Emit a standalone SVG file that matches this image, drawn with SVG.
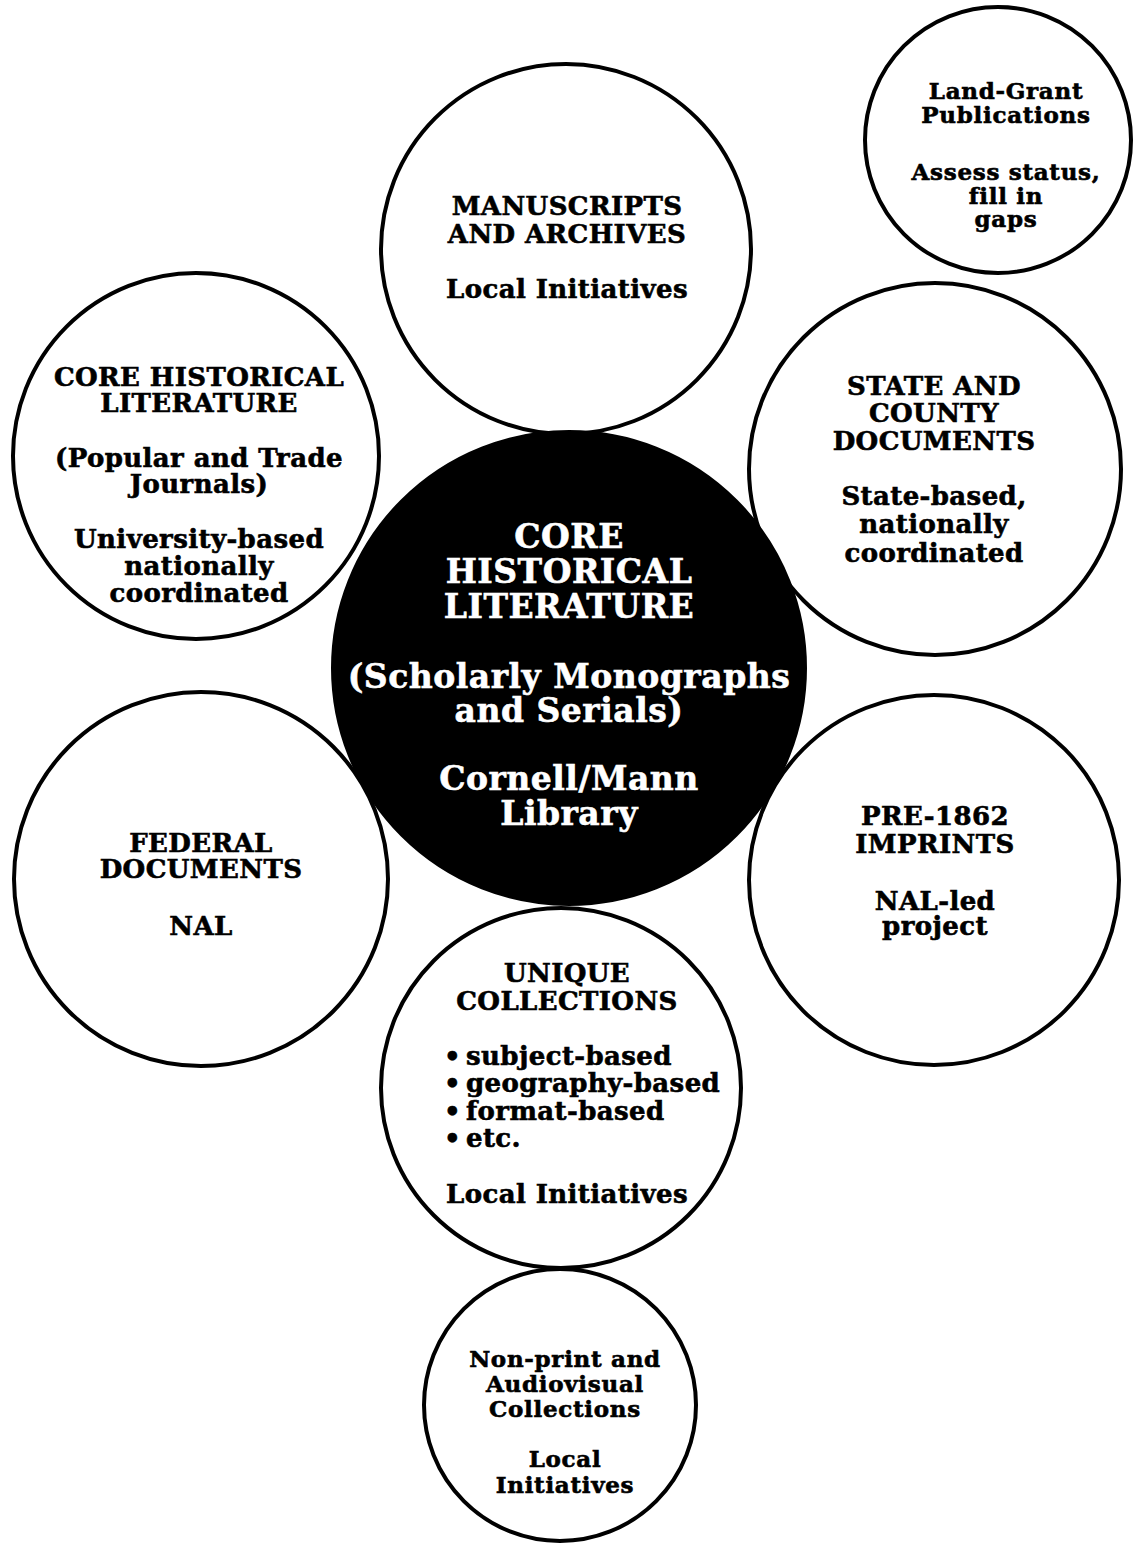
<svg xmlns="http://www.w3.org/2000/svg" width="1133" height="1543" viewBox="0 0 1133 1543">
  <style>
    .ring { fill: #fff; stroke: #000; stroke-width: 4; }
    .hub { fill: #000; stroke: #000; stroke-width: 4; }
    text { font-family: "DejaVu Serif", "Liberation Serif", serif; font-weight: bold; fill: #000; stroke: #000; stroke-width: 0.6; text-anchor: middle; }
    .t { font-size: 26px; letter-spacing: 0.4px; }
    .s { font-size: 23px; letter-spacing: 0.7px; }
    .c { font-size: 33px; letter-spacing: 0.5px; fill: #fff; stroke: #fff; }
    .l { text-anchor: start; }
  </style>
  <rect width="1133" height="1543" fill="#fff"/>

  <!-- the diagram has no connectors: circles touch one another directly -->
  <g id="connectors"/>

  <g id="land-grant">
    <circle class="ring" cx="998" cy="140" r="133"/>
    <text class="s" x="1006" y="99">Land-Grant</text>
    <text class="s" x="1006" y="123">Publications</text>
    <text class="s" x="1006" y="180">Assess status,</text>
    <text class="s" x="1006" y="204">fill in</text>
    <text class="s" x="1006" y="227">gaps</text>
  </g>

  <g id="manuscripts">
    <circle class="ring" cx="566" cy="249" r="185"/>
    <text class="t" x="567" y="215">MANUSCRIPTS</text>
    <text class="t" x="567" y="243">AND ARCHIVES</text>
    <text class="t" x="567" y="298">Local Initiatives</text>
  </g>

  <g id="core-popular">
    <circle class="ring" cx="196" cy="456" r="183"/>
    <text class="t" x="199" y="386">CORE HISTORICAL</text>
    <text class="t" x="199" y="412">LITERATURE</text>
    <text class="t" x="199" y="467">(Popular and Trade</text>
    <text class="t" x="199" y="493">Journals)</text>
    <text class="t" x="199" y="548">University-based</text>
    <text class="t" x="199" y="575">nationally</text>
    <text class="t" x="199" y="602">coordinated</text>
  </g>

  <g id="state-county">
    <circle class="ring" cx="935" cy="469" r="186"/>
    <text class="t" x="934" y="395">STATE AND</text>
    <text class="t" x="934" y="422">COUNTY</text>
    <text class="t" x="934" y="450">DOCUMENTS</text>
    <text class="t" x="934" y="505">State-based,</text>
    <text class="t" x="934" y="533">nationally</text>
    <text class="t" x="934" y="562">coordinated</text>
  </g>

  <g id="federal">
    <circle class="ring" cx="201" cy="879" r="187"/>
    <text class="t" x="201" y="852">FEDERAL</text>
    <text class="t" x="201" y="878">DOCUMENTS</text>
    <text class="t" x="201" y="935">NAL</text>
  </g>

  <g id="pre-1862">
    <circle class="ring" cx="934" cy="880" r="185"/>
    <text class="t" x="935" y="825">PRE-1862</text>
    <text class="t" x="935" y="853">IMPRINTS</text>
    <text class="t" x="935" y="910">NAL-led</text>
    <text class="t" x="935" y="935">project</text>
  </g>

  <g id="unique">
    <circle class="ring" cx="561" cy="1088" r="180"/>
    <text class="t" x="567" y="982">UNIQUE</text>
    <text class="t" x="567" y="1010">COLLECTIONS</text>
    <text class="t l" x="444" y="1065">•</text>
    <text class="t l" x="466" y="1065">subject-based</text>
    <text class="t l" x="444" y="1092">•</text>
    <text class="t l" x="466" y="1092">geography-based</text>
    <text class="t l" x="444" y="1120">•</text>
    <text class="t l" x="466" y="1120">format-based</text>
    <text class="t l" x="444" y="1147">•</text>
    <text class="t l" x="466" y="1147">etc.</text>
    <text class="t" x="567" y="1203">Local Initiatives</text>
  </g>

  <g id="non-print">
    <circle class="ring" cx="560" cy="1405" r="136"/>
    <text class="s" x="565" y="1367">Non-print and</text>
    <text class="s" x="565" y="1392">Audiovisual</text>
    <text class="s" x="565" y="1417">Collections</text>
    <text class="s" x="565" y="1467">Local</text>
    <text class="s" x="565" y="1493">Initiatives</text>
  </g>

  <g id="core-scholarly">
    <circle class="hub" cx="569" cy="668" r="236"/>
    <text class="c" x="569" y="548">CORE</text>
    <text class="c" x="569" y="583">HISTORICAL</text>
    <text class="c" x="569" y="618">LITERATURE</text>
    <text class="c" x="569" y="688">(Scholarly Monographs</text>
    <text class="c" x="569" y="722">and Serials)</text>
    <text class="c" x="569" y="790">Cornell/Mann</text>
    <text class="c" x="569" y="825">Library</text>
  </g>
</svg>
